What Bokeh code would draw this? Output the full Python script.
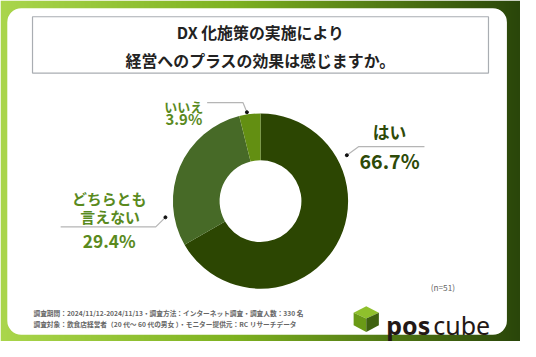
import numpy as np
from bokeh.plotting import figure
from bokeh.models import Range1d, ColumnDataSource
from bokeh.core.properties import value
from bokeh.embed import file_html
from bokeh.resources import INLINE

# ---- data ----
title_lines = ["DX 化施策の実施により", "経営へのプラスの効果は感じますか。"]
categories = ["はい", "どちらとも言えない", "いいえ"]
percents = [66.7, 29.4, 3.9]
slice_colors = ["#2c4602", "#476a27", "#638f12"]
n_label = "(n=51)"
footer_lines = [
    "調査期間：2024/11/12-2024/11/13・調査方法：インターネット調査・調査人数：330 名",
    "調査対象：飲食店経営者（20 代～ 60 代の男女 ）・モニター提供元：RC リサーチデータ",
]
logo_parts = ["pos", "cube"]

# ---- canvas ----
W, H = 520, 341
RW, RH = 536, 357
S = (W / RW + H / RH) / 2
JP = value("Noto Sans CJK JP")


def Y(y):
    return RH - y


def fs(px):
    return value(f"{px * S:.1f}px")


p = figure(width=W, height=H, x_range=Range1d(0, RW), y_range=Range1d(0, RH),
           output_backend="svg", toolbar_location=None, min_border=0)
p.axis.visible = False
p.grid.visible = False
p.outline_line_color = None
p.background_fill_color = "#ffffff"
p.border_fill_color = "#ffffff"

# gradient frame
stops = [0.0, 0.45, 1.0]
cols = np.array([[170, 214, 76], [126, 178, 32], [42, 70, 10]], dtype=float)
xs = np.linspace(0, 1, RW)
img = np.zeros((2, RW), dtype=np.uint32)
view = img.view(dtype=np.uint8).reshape((2, RW, 4))
for c in range(3):
    view[:, :, c] = np.interp(xs, stops, cols[:, c]).astype(np.uint8)
view[:, :, 3] = 255
p.image_rgba(image=[img], x=0, y=0, dw=RW, dh=RH)

# white panel
p.quad(left=7, right=522, bottom=Y(350), top=Y(8), fill_color="white",
       line_color=None, border_radius=14)

# title box
p.quad(left=33, right=503, bottom=Y(76), top=Y(17), fill_color="white",
       line_color="#a9adb2", line_width=1.2)
p.text(x=[268, 268], y=[Y(34), Y(63)], text=title_lines, text_align="center",
       text_baseline="middle", text_font=JP, text_font_style="bold",
       text_font_size=fs(16.5), text_color="#222222")

# donut
fr = np.array(percents) / sum(percents)
ends = 90 - 360 * np.cumsum(fr)
starts = np.concatenate([[90.0], ends[:-1]])
src = ColumnDataSource(dict(cat=categories, pct=percents,
                            start=np.radians(starts), end=np.radians(ends),
                            color=slice_colors))
p.annular_wedge(x=268, y=Y(210), inner_radius=42.5 * S, outer_radius=91 * S,
                inner_radius_units="screen", outer_radius_units="screen",
                start_angle="start", end_angle="end", direction="clock",
                fill_color="color", line_color=None, source=src)

# leader lines
lead_xs = [[357, 369, 437], [254, 250, 213], [170, 160, 62]]
lead_ys = [[162, 153, 153], [117, 107, 107], [227, 237, 237]]
p.multi_line(xs=lead_xs, ys=[[Y(v) for v in l] for l in lead_ys],
             line_color="#b5b5b5", line_width=1.2)
p.scatter(x=[l[0] for l in lead_xs], y=[Y(l[0]) for l in lead_ys],
          size=3, color="#111111")

# labels
dark = "#2e4a08"
green = "#5a8a1e"
pct_txt = [f"{v}%" for v in percents]
lab = [
    (401, 138, categories[0], 17.5, dark),
    (401, 167, pct_txt[0], 20.5, dark),
    (112, 207, categories[1][:5], 15.5, green),
    (113, 226, categories[1][5:], 15.5, green),
    (112, 251, pct_txt[1], 18, green),
    (189, 111, categories[2], 13.5, green),
    (189, 124, pct_txt[2], 15.5, green),
]
for x, y, t, sz, col in lab:
    p.text(x=[x], y=[Y(y)], text=[t], text_align="center", text_baseline="middle",
           text_font=JP, text_font_style="bold", text_font_size=fs(sz),
           text_color=col)

# n label
p.text(x=[456], y=[Y(300)], text=[n_label], text_align="center",
       text_baseline="middle", text_font=JP, text_font_size=fs(8.5),
       text_color="#666666")

# footer
p.text(x=[34, 34], y=[Y(327), Y(339)], text=footer_lines, text_align="left",
       text_baseline="middle", text_font=JP, text_font_style="bold",
       text_font_size=fs(7.0), text_color="#666666")

# logo cube
cx, top, bot, lx, rx = 377, 320, 347, 364, 390
mid1, mid2, cy = 327, 340, 333
p.patches(xs=[[cx, rx, cx, lx], [lx, cx, cx, lx], [cx, rx, rx, cx]],
          ys=[[Y(top), Y(mid1), Y(cy), Y(mid1)],
              [Y(mid1), Y(cy), Y(bot), Y(mid2)],
              [Y(cy), Y(mid1), Y(mid2), Y(bot)]],
          fill_color=["#8fc02c", "#6a9a16", "#3f6210"], line_color=None)
p.text(x=[443], y=[Y(340)], text=[logo_parts[0]], text_align="right",
       text_baseline="alphabetic", text_font=value("Noto Sans"),
       text_font_style="bold", text_font_size=fs(26), text_color="#231815")
p.text(x=[446], y=[Y(340)], text=[logo_parts[1]], text_align="left",
       text_baseline="alphabetic", text_font=value("Noto Sans"),
       text_font_size=fs(26), text_color="#231815")

open("out.html", "w").write(file_html(p, INLINE))
